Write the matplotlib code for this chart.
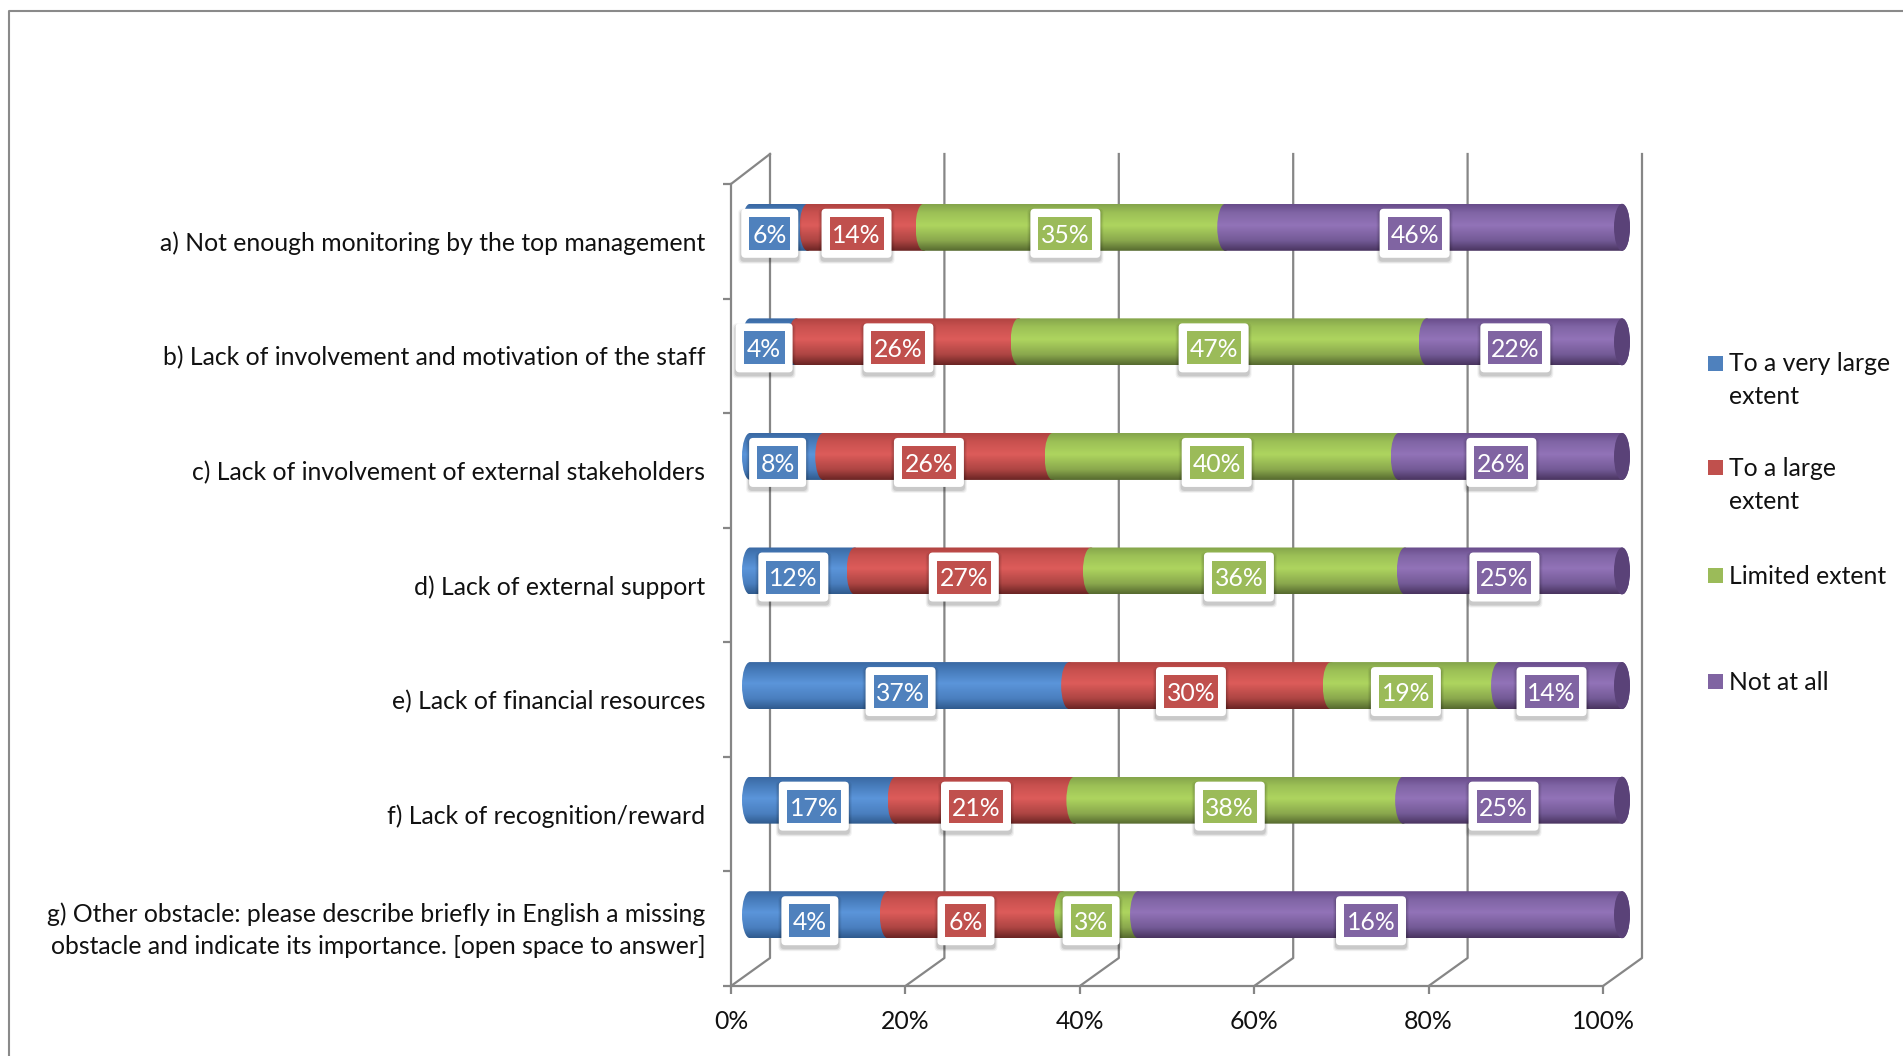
import matplotlib.pyplot as plt
import numpy as np
from matplotlib.colors import LinearSegmentedColormap
from matplotlib.lines import Line2D
from matplotlib.patches import Ellipse, FancyBboxPatch, PathPatch, Rectangle
from matplotlib.path import Path
from matplotlib.transforms import IdentityTransform, ScaledTranslation

categories = [
    "a) Not enough monitoring by the top management",
    "b) Lack of involvement and motivation of the staff",
    "c) Lack of involvement of external stakeholders",
    "d) Lack of external support",
    "e) Lack of financial resources",
    "f) Lack of recognition/reward",
    "g) Other obstacle: please describe briefly in English a missing\n"
    "obstacle and indicate its importance. [open space to answer]",
]
series_names = ["To a very large\nextent", "To a large\nextent", "Limited extent", "Not at all"]
x_ticks = [0, 20, 40, 60, 80, 100]

# printed labels
very_large_labels = [6, 4, 8, 12, 37, 17, 4]
large_labels = [14, 26, 26, 27, 30, 21, 6]
limited_labels = [35, 47, 40, 36, 19, 38, 3]
not_at_all_labels = [46, 22, 26, 25, 14, 25, 16]

# segment lengths (100% stacked)
very_large_share = [6.6, 5.3, 8.4, 12.0, 36.6, 16.7, 15.8]
large_share = [13.3, 25.5, 26.3, 27.1, 30.0, 20.5, 20.0]
limited_share = [34.6, 46.8, 39.7, 36.0, 19.3, 37.7, 8.7]
not_at_all_share = [45.5, 22.4, 25.6, 24.9, 14.1, 25.1, 55.5]

shares = [very_large_share, large_share, limited_share, not_at_all_share]
labels = [very_large_labels, large_labels, limited_labels, not_at_all_labels]

flat_colors = ["#4f81bd", "#c0504d", "#9bbb59", "#8064a2"]
ramps = [
    ["#3a69a3", "#477cbb", "#5b95da", "#4a7fbf", "#2f5a8d"],
    ["#b04341", "#c9514f", "#dd5c5a", "#ad4543", "#6a2423"],
    ["#84a44b", "#9cc056", "#aed55f", "#8aa84d", "#56692f"],
    ["#684c8a", "#8065a5", "#9273b8", "#735a96", "#49345f"],
]

W, H = 1903, 1056
line_color = "#868686"
text_color = "#111111"
plt.rcParams["font.family"] = ["Lato", "DejaVu Sans"]
font_size = 17.8

fig = plt.figure(figsize=(W / 100, H / 100), dpi=100)

# front plane of the fake 3d box, in pixels
left, right, top, bottom = 731, 1603, 184, 986
ax = fig.add_axes([left / W, 1 - bottom / H, (right - left) / W, (bottom - top) / H])
ax.set_facecolor("none")
ax.set_xlim(0, 100)
ax.set_ylim(7, 0)
unit_x = 100 / (right - left)
unit_y = 7 / (bottom - top)

# page border
fig.add_artist(Line2D([9 / W, 9 / W, 1], [0, 1 - 11 / H, 1 - 11 / H], color="#8a8a8a", lw=1.5))

# back wall and floor
depth_x, depth_y = 39, 28
for tick in x_ticks:
    fx = left + tick / 100 * (right - left)
    bx = fx + depth_x
    if tick == 0:
        fig.add_artist(Line2D([fx / W, bx / W], [1 - top / H, 1 - (top - 30) / H], color=line_color, lw=1.6))
    fig.add_artist(Line2D([fx / W, bx / W, bx / W],
                          [1 - bottom / H, 1 - (bottom - depth_y) / H, 1 - (top - 30) / H],
                          color=line_color, lw=1.6, zorder=0))

# cylinders
bar_h = 47 * unit_y
bulge = 8 * unit_x
shift_x = 19 * unit_x
shift_y = 14 * unit_y
kappa = 0.5523


def segment_path(x0, x1, yt, yb, b):
    yc = (yt + yb) / 2
    ky = (yb - yt) / 2 * kappa
    verts = [
        (x0, yt), (x1, yt),
        (x1 + b * kappa, yt), (x1 + b, yc - ky), (x1 + b, yc),
        (x1 + b, yc + ky), (x1 + b * kappa, yb), (x1, yb),
        (x0, yb),
        (x0 - b * kappa, yb), (x0 - b, yc + ky), (x0 - b, yc),
        (x0 - b, yc - ky), (x0 - b * kappa, yt), (x0, yt),
    ]
    codes = [Path.MOVETO, Path.LINETO] + [Path.CURVE4] * 6 + [Path.LINETO] + [Path.CURVE4] * 6
    return Path(verts, codes)


gradient = np.linspace(0, 1, 128).reshape(-1, 1)
stops = [0.0, 0.18, 0.45, 0.78, 1.0]
for row in range(len(categories)):
    yc = row + 0.5 - shift_y
    yt, yb = yc - bar_h / 2, yc + bar_h / 2
    start = 0
    for s in range(len(shares)):
        value = shares[s][row]
        x0 = start + shift_x
        x1 = start + value + shift_x
        cmap = LinearSegmentedColormap.from_list("ramp", list(zip(stops, ramps[s])))
        im = ax.imshow(gradient, cmap=cmap, extent=(x0 - bulge, x1 + bulge, yb, yt),
                       aspect="auto", origin="upper", zorder=2 + s * 0.1, interpolation="bilinear")
        clip = PathPatch(segment_path(x0, x1, yt, yb, bulge), transform=ax.transData,
                         facecolor="none", edgecolor="none", clip_on=False)
        ax.add_patch(clip)
        im.set_clip_box(fig.bbox)
        im.set_clip_path(clip)
        start += value
    ax.add_patch(Ellipse((100 + shift_x, yc), 2 * bulge, bar_h, facecolor="#5a4278",
                         edgecolor="none", zorder=2.5, clip_on=False))

    # data labels, white card with a coloured box on top
    start = 0
    for s in range(len(shares)):
        value = shares[s][row]
        text = f"{labels[s][row]}%"
        lx = start + value / 2 + 10 * unit_x
        ly = row + 0.5 - 8 * unit_y
        px, py = ax.transData.transform((lx, ly))
        inner_w = 41 if len(text) == 2 else 54
        inner_h = 33
        for k, alpha in enumerate([0.05, 0.07, 0.10]):
            grow = 3 - k
            ax.add_patch(FancyBboxPatch(
                (px - inner_w / 2 - 8 - grow, py - inner_h / 2 - 8 - 3 - grow),
                inner_w + 16 + 2 * grow, inner_h + 16 + 2 * grow,
                boxstyle="round,pad=0,rounding_size=4", facecolor="black", edgecolor="none",
                alpha=alpha, transform=IdentityTransform(), zorder=3, clip_on=False))
        ax.add_patch(FancyBboxPatch(
            (px - inner_w / 2 - 8, py - inner_h / 2 - 8), inner_w + 16, inner_h + 16,
            boxstyle="round,pad=0,rounding_size=4", facecolor="white", edgecolor="none",
            transform=IdentityTransform(), zorder=3.2, clip_on=False))
        ax.add_patch(Rectangle((px - inner_w / 2, py - inner_h / 2), inner_w, inner_h,
                               facecolor=flat_colors[s], edgecolor="none",
                               transform=IdentityTransform(), zorder=3.4, clip_on=False))
        ax.text(lx, ly, text, color="white", fontsize=font_size, ha="center", va="center_baseline", zorder=3.6)
        start += value

for side in ["top", "right"]:
    ax.spines[side].set_visible(False)
for side in ["left", "bottom"]:
    ax.spines[side].set_color(line_color)
    ax.spines[side].set_linewidth(1.6)
ax.set_xticks(x_ticks, [f"{t}%" for t in x_ticks], fontsize=font_size, color=text_color)
ax.set_yticks(np.arange(8))
ax.set_yticklabels([])
ax.set_yticks(np.arange(7) + 0.5, categories, minor=True, fontsize=font_size, color=text_color, ma="right")
ax.tick_params(axis="x", length=6, width=1.6, color=line_color, pad=11)
ax.tick_params(axis="y", which="major", length=6, width=1.6, color=line_color)
ax.tick_params(axis="y", which="minor", length=0, pad=18.5)
for lab in ax.get_yticklabels(minor=True):
    lab.set_linespacing(1.45)
    if "\n" in lab.get_text():
        lab.set_transform(lab.get_transform() + ScaledTranslation(0, 0.05, fig.dpi_scale_trans))

# legend, drawn by hand because entries wrap
legend_y = [363, 468, 575, 681]
for name, color, y in zip(series_names, flat_colors, legend_y):
    fig.add_artist(Rectangle((1708 / W, 1 - (y + 7.5) / H), 15 / W, 15 / H, facecolor=color,
                             edgecolor="none", transform=fig.transFigure))
    fig.text(1729 / W, 1 - (y - 10.5) / H, name, fontsize=font_size, color=text_color, ha="left",
             va="top", linespacing=1.5)

fig.savefig("out.png", dpi=100)
plt.close(fig)
